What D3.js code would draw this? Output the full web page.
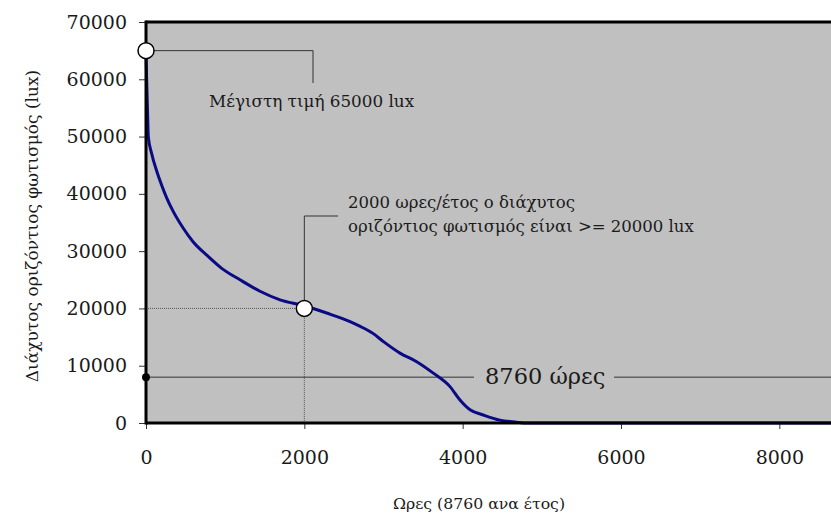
<!DOCTYPE html>
<html>
<head>
<meta charset="utf-8">
<script src="https://cdn.jsdelivr.net/npm/d3@7"></script>
<style>
  html, body { margin: 0; padding: 0; background: #ffffff; }
  svg { display: block; }
  text { font-family: "DejaVu Serif", "Liberation Serif", serif; fill: #1a1a1a; }
</style>
</head>
<body>
<svg id="chart" width="831" height="517"></svg>
<script>
// ---- data ----
const hours = [0, 8, 16, 22, 29, 72, 135, 198, 261, 345, 471, 597, 767, 956, 1187, 1440, 1693, 1987, 2282, 2577, 2700, 2871, 3000, 3208, 3419, 3629, 3840, 3966, 4093, 4261, 4471, 4682, 4800, 6000, 8760];
const lux   = [65000, 60000, 56000, 53000, 50000, 47000, 44000, 41500, 39300, 36900, 34000, 31600, 29300, 27000, 25000, 23000, 21500, 20500, 19200, 17700, 16900, 15600, 14200, 12200, 10700, 8700, 6350, 4000, 2300, 1400, 500, 150, 0, 0, 0];
const xTicks = [0, 2000, 4000, 6000, 8000];
const yTicks = [0, 10000, 20000, 30000, 40000, 50000, 60000, 70000];
const xTitle = "Ωρες (8760 ανα έτος)";
const yTitle = "Διάχυτος οριζόντιος φωτισμός (lux)";
const maxPoint = {h: 0, v: 65000, label: "Μέγιστη τιμή 65000 lux"};
const hoursPoint = {h: 2000, v: 20000, lines: ["2000 ωρες/έτος ο διάχυτος", "οριζόντιος φωτισμός είναι >= 20000 lux"]};
const yearPoint = {h: 0, v: 8000, label: "8760 ώρες"};

// ---- layout ----
const svg = d3.select("#chart");
const x = d3.scaleLinear().domain([0, 8760]).range([146, 839.5]);
const y = d3.scaleLinear().domain([0, 70000]).range([423, 22]);

// plot background
svg.append("rect")
  .attr("x", x(0)).attr("y", y(70000))
  .attr("width", x(8760) - x(0)).attr("height", y(0) - y(70000))
  .attr("fill", "#c0c0c0");

// axes
const yAxis = svg.append("g").attr("transform", `translate(${x(0)},0)`)
  .call(d3.axisLeft(y).tickValues(yTicks).tickSize(7).tickPadding(12).tickFormat(d3.format("d")));
yAxis.select(".domain").remove();
yAxis.selectAll("line").attr("stroke", "#333").attr("stroke-width", 1);
yAxis.selectAll("text").attr("font-size", 19).attr("fill", "#1a1a1a")
  .attr("font-family", "DejaVu Serif");

const xAxis = svg.append("g").attr("transform", `translate(0,${y(0)})`)
  .call(d3.axisBottom(x).tickValues(xTicks).tickSize(6).tickPadding(22).tickFormat(d3.format("d")));
xAxis.select(".domain").remove();
xAxis.selectAll("line").attr("stroke", "#333").attr("stroke-width", 1);
xAxis.selectAll("text").attr("font-size", 19).attr("fill", "#1a1a1a")
  .attr("font-family", "DejaVu Serif");

// annotation guide lines
const pMax = [x(maxPoint.h), y(maxPoint.v)];
svg.append("path")
  .attr("d", `M${pMax[0]},${pMax[1]} H313 V83`)
  .attr("fill", "none").attr("stroke", "#333").attr("stroke-width", 1);

const pH = [x(hoursPoint.h), y(hoursPoint.v)];
svg.append("path")
  .attr("d", `M${x(0)},${pH[1]} H${pH[0]} V${y(0)}`)
  .attr("fill", "none").attr("stroke", "#555").attr("stroke-width", 1)
  .attr("stroke-dasharray", "1,1");
svg.append("path")
  .attr("d", `M${pH[0]},${pH[1]} V216 H338`)
  .attr("fill", "none").attr("stroke", "#333").attr("stroke-width", 1);

const pY = [x(yearPoint.h), y(yearPoint.v)];
svg.append("line")
  .attr("x1", pY[0]).attr("x2", 474).attr("y1", pY[1]).attr("y2", pY[1])
  .attr("stroke", "#333").attr("stroke-width", 1);
svg.append("line")
  .attr("x1", 614).attr("x2", x(8760)).attr("y1", pY[1]).attr("y2", pY[1])
  .attr("stroke", "#333").attr("stroke-width", 1);

// curve
const line = d3.line().x((d, i) => x(hours[i])).y((d, i) => y(lux[i])).curve(d3.curveMonotoneX);
svg.append("path")
  .datum(lux)
  .attr("d", line)
  .attr("fill", "none").attr("stroke", "#0a0a84").attr("stroke-width", 3)
  .attr("stroke-linejoin", "round");

// frame lines
svg.append("line").attr("x1", x(0)).attr("x2", x(8760)).attr("y1", y(70000)).attr("y2", y(70000))
  .attr("stroke", "#000").attr("stroke-width", 3);
svg.append("line").attr("x1", x(0)).attr("x2", x(8760)).attr("y1", y(0)).attr("y2", y(0))
  .attr("stroke", "#000").attr("stroke-width", 3);
svg.append("line").attr("x1", x(0)).attr("x2", x(0)).attr("y1", y(70000) - 1.5).attr("y2", y(0) + 1.5)
  .attr("stroke", "#000").attr("stroke-width", 3);

// markers
svg.append("circle").attr("cx", pMax[0]).attr("cy", pMax[1]).attr("r", 8)
  .attr("fill", "#fff").attr("stroke", "#000").attr("stroke-width", 1.5);
svg.append("circle").attr("cx", pH[0]).attr("cy", pH[1]).attr("r", 8)
  .attr("fill", "#fff").attr("stroke", "#000").attr("stroke-width", 1.5);
svg.append("circle").attr("cx", pY[0]).attr("cy", pY[1]).attr("r", 4)
  .attr("fill", "#000");

// annotation texts
svg.append("text").attr("x", 209).attr("y", 107).attr("font-size", 16.8)
  .text(maxPoint.label);
svg.append("text").attr("x", 348).attr("y", 208).attr("font-size", 16.5)
  .text(hoursPoint.lines[0]);
svg.append("text").attr("x", 348).attr("y", 232).attr("font-size", 16.5)
  .text(hoursPoint.lines[1]);
svg.append("text").attr("x", 485).attr("y", 384).attr("font-size", 22.5)
  .text(yearPoint.label);

// axis titles
svg.append("text").attr("x", 479).attr("y", 509).attr("text-anchor", "middle").attr("font-size", 15.7)
  .text(xTitle);
svg.append("text").attr("transform", "translate(38,226) rotate(-90)").attr("text-anchor", "middle")
  .attr("font-size", 17).text(yTitle);
</script>
</body>
</html>
